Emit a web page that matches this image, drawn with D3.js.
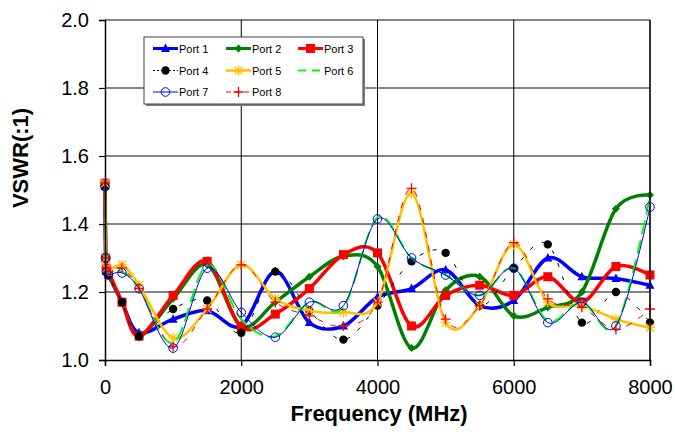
<!DOCTYPE html>
<html><head><meta charset="utf-8">
<script src="https://cdn.jsdelivr.net/npm/d3@7"></script>
<style>body{margin:0;background:#fff;} svg{display:block;font-family:"Liberation Sans",Arial,sans-serif;}</style>
</head><body><svg id="c" width="675" height="432"></svg>
<script>
const freqs = [0, 10, 20, 50, 250, 500, 1000, 1500, 2000, 2500, 3000, 3500, 4000, 4500, 5000, 5500, 6000, 6500, 7000, 7500, 8000];
const port1 = [1.51, 1.30, 1.26, 1.25, 1.17, 1.08, 1.12, 1.145, 1.10, 1.26, 1.11, 1.10, 1.185, 1.21, 1.265, 1.16, 1.175, 1.30, 1.245, 1.24, 1.22];
const port2 = [1.51, 1.30, 1.26, 1.25, 1.17, 1.07, 1.18, 1.28, 1.10, 1.17, 1.245, 1.305, 1.275, 1.035, 1.205, 1.245, 1.13, 1.155, 1.20, 1.445, 1.485];
const port3 = [1.52, 1.30, 1.27, 1.26, 1.17, 1.07, 1.19, 1.29, 1.097, 1.135, 1.21, 1.31, 1.315, 1.10, 1.19, 1.22, 1.19, 1.245, 1.17, 1.275, 1.25];
const port4 = [1.51, 1.30, 1.26, 1.25, 1.17, 1.07, 1.15, 1.175, 1.08, 1.26, 1.145, 1.06, 1.16, 1.29, 1.315, 1.16, 1.27, 1.34, 1.11, 1.20, 1.11];
const port5 = [1.52, 1.30, 1.27, 1.26, 1.28, 1.22, 1.065, 1.15, 1.28, 1.18, 1.145, 1.14, 1.17, 1.49, 1.11, 1.16, 1.34, 1.17, 1.16, 1.12, 1.095];
const port6 = [1.51, 1.30, 1.26, 1.25, 1.26, 1.21, 1.05, 1.28, 1.12, 1.07, 1.17, 1.155, 1.42, 1.30, 1.25, 1.19, 1.27, 1.115, 1.17, 1.10, 1.48];
const port7 = [1.51, 1.30, 1.26, 1.25, 1.256, 1.21, 1.035, 1.27, 1.14, 1.067, 1.17, 1.16, 1.415, 1.30, 1.25, 1.19, 1.27, 1.11, 1.17, 1.10, 1.45];
const port8 = [1.52, 1.30, 1.27, 1.26, 1.27, 1.21, 1.04, 1.15, 1.28, 1.17, 1.13, 1.10, 1.17, 1.505, 1.12, 1.16, 1.345, 1.18, 1.155, 1.09, 1.15];
const seriesNames = ["Port 1", "Port 2", "Port 3", "Port 4", "Port 5", "Port 6", "Port 7", "Port 8"];
const yTicks = [1.0, 1.2, 1.4, 1.6, 1.8, 2.0];
const xTicks = [0, 2000, 4000, 6000, 8000];
const xTitle = "Frequency (MHz)";
const yTitle = "VSWR(:1)";

const allSeries = [port1, port2, port3, port4, port5, port6, port7, port8];
const styles = [
  {color: "#0000FF", w: 3.5, dash: null, marker: "triangle"},
  {color: "#008000", w: 3.5, dash: null, marker: "diamond"},
  {color: "#FF0000", w: 3.5, dash: null, marker: "square"},
  {color: "#000000", w: 1, dash: "4,10", marker: "circleFill"},
  {color: "#FFC000", w: 2.5, dash: null, marker: "asterisk"},
  {color: "#00FF00", w: 2, dash: "14,6", marker: null},
  {color: "#0000FF", w: 1, dash: null, marker: "circleOpen"},
  {color: "#FF0000", w: 1, dash: "6,8", marker: "plus"}
];

const svg = d3.select("#c");
const x = d3.scaleLinear().domain([0, 8000]).range([105, 650]);
const y = d3.scaleLinear().domain([1, 2]).range([360, 20]);

// gridlines
const grid = svg.append("g");
grid.selectAll("line.h").data(yTicks.filter(d => d > 1)).enter().append("line")
  .attr("x1", 105).attr("x2", 650).attr("y1", d => y(d)).attr("y2", d => y(d))
  .attr("stroke", "#5a5a5a").attr("stroke-width", 1.5);
grid.selectAll("line.v").data(xTicks.filter(d => d > 0)).enter().append("line")
  .attr("x1", d => x(d)).attr("x2", d => x(d)).attr("y1", 20).attr("y2", 360)
  .attr("stroke", "#000").attr("stroke-width", 1);

function drawMarker(g, type, cx, cy, color) {
  if (!type) return;
  if (type === "triangle") {
    g.append("path").attr("d", `M${cx},${cy-5}L${cx+4.5},${cy+3.5}L${cx-4.5},${cy+3.5}Z`).attr("fill", color);
  } else if (type === "diamond") {
    g.append("path").attr("d", `M${cx},${cy-4}L${cx+4},${cy}L${cx},${cy+4}L${cx-4},${cy}Z`).attr("fill", color);
  } else if (type === "square") {
    g.append("rect").attr("x", cx-4.5).attr("y", cy-4.5).attr("width", 9).attr("height", 9).attr("fill", color);
  } else if (type === "circleFill") {
    g.append("circle").attr("cx", cx).attr("cy", cy).attr("r", 4.2).attr("fill", color);
  } else if (type === "circleOpen") {
    g.append("circle").attr("cx", cx).attr("cy", cy).attr("r", 4.3).attr("fill", "none").attr("stroke", color).attr("stroke-width", 1);
  } else if (type === "asterisk") {
    const s = 4;
    g.append("path").attr("d", `M${cx-s},${cy-s}L${cx+s},${cy+s}M${cx-s},${cy+s}L${cx+s},${cy-s}M${cx},${cy-s-1}L${cx},${cy+s+1}M${cx-s-1},${cy}L${cx+s+1},${cy}`)
      .attr("stroke", color).attr("stroke-width", 1.3).attr("fill", "none");
  } else if (type === "plus") {
    const s = 5;
    g.append("path").attr("d", `M${cx-s},${cy}L${cx+s},${cy}M${cx},${cy-s}L${cx},${cy+s}`)
      .attr("stroke", color).attr("stroke-width", 1.3).attr("fill", "none");
  }
}

const line = d3.line().x(d => x(d[0])).y(d => y(d[1])).curve(d3.curveCardinal.tension(0));
const plot = svg.append("g");
allSeries.forEach((vals, i) => {
  const st = styles[i];
  const pts = freqs.map((f, j) => [f, vals[j]]);
  const g = plot.append("g");
  g.append("path").attr("d", line(pts)).attr("fill", "none")
    .attr("stroke", st.color).attr("stroke-width", st.w)
    .attr("stroke-dasharray", st.dash).attr("stroke-linejoin", "round");
  pts.forEach(p => drawMarker(g, st.marker, x(p[0]), y(p[1]), st.color));
});

// axes
const yAxis = svg.append("g").attr("transform", "translate(105,0)")
  .call(d3.axisLeft(y).tickValues(yTicks).tickFormat(d3.format(".1f")).tickSize(6).tickPadding(10));
const xAxis = svg.append("g").attr("transform", "translate(0,360)")
  .call(d3.axisBottom(x).tickValues(xTicks).tickFormat(d3.format("d")).tickSize(6).tickPadding(14));
[yAxis, xAxis].forEach(a => {
  a.selectAll("text").attr("font-size", 20).attr("fill", "#000")
    .attr("font-family", "'Liberation Sans', Arial, sans-serif");
  a.selectAll("line").attr("stroke", "#000").attr("stroke-width", 1.2);
  a.select(".domain").attr("stroke", "#000").attr("stroke-width", 1.5);
});
svg.append("line").attr("x1", 650).attr("x2", 650).attr("y1", 20).attr("y2", 360).attr("stroke", "#000").attr("stroke-width", 1.2);

// titles
svg.append("text").attr("x", 379).attr("y", 421).attr("text-anchor", "middle")
  .attr("font-size", 22).attr("font-weight", "bold").text(xTitle);
svg.append("text").attr("transform", "translate(28,158) rotate(-90)").attr("text-anchor", "middle")
  .attr("font-size", 22).attr("font-weight", "bold").text(yTitle);

// legend
const lg = svg.append("g");
lg.append("rect").attr("x", 146).attr("y", 39).attr("width", 219).attr("height", 67).attr("fill", "#808080");
lg.append("rect").attr("x", 144).attr("y", 37).attr("width", 219).attr("height", 67).attr("fill", "#fff").attr("stroke", "#404040").attr("stroke-width", 1);
const colX = [153, 226, 298];
const rowY = [48.5, 70.5, 92];
seriesNames.forEach((name, i) => {
  const st = styles[i];
  const cx0 = colX[i % 3], cy0 = rowY[Math.floor(i / 3)];
  lg.append("line").attr("x1", cx0).attr("x2", cx0 + 25).attr("y1", cy0).attr("y2", cy0)
    .attr("stroke", st.color).attr("stroke-width", Math.min(st.w, 3))
    .attr("stroke-dasharray", st.dash === "4,10" ? "2,2" : (st.dash === "6,8" ? "5,4" : (st.dash ? "8,6" : null)));
  drawMarker(lg, st.marker, cx0 + 12.5, cy0, st.color);
  lg.append("text").attr("x", cx0 + 26).attr("y", cy0 + 4).attr("font-size", 11).text(name);
});
</script></body></html>
